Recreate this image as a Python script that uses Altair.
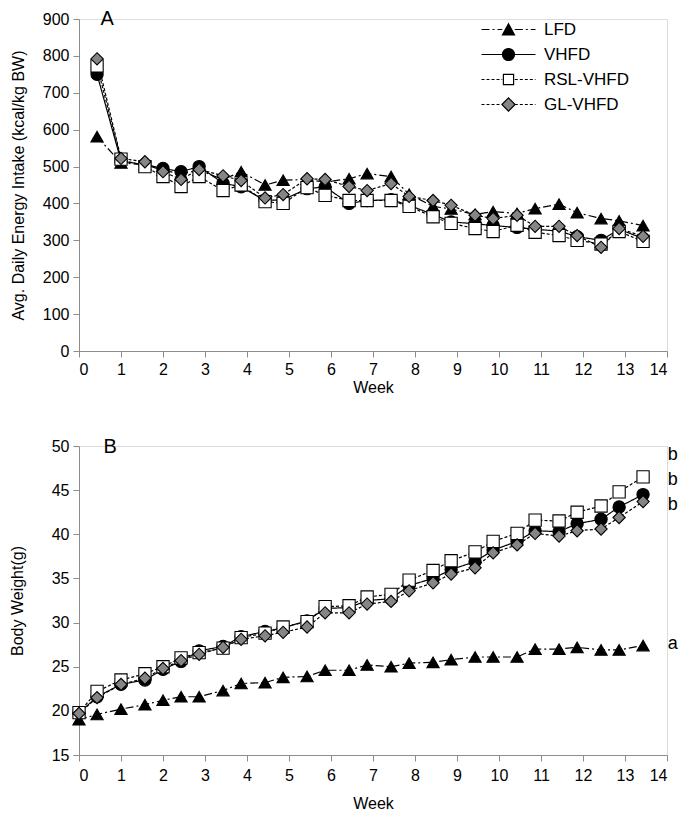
import altair as alt
import pandas as pd

# ---------------- data ----------------
groups = ["LFD", "VHFD", "RSL-VHFD", "GL-VHFD"]

weeks_a = [0.43, 1, 1.57, 2, 2.43, 2.86, 3.43, 3.86, 4.43, 4.86, 5.43, 5.86, 6.43, 6.86,
           7.43, 7.86, 8.43, 8.86, 9.43, 9.86, 10.43, 10.86, 11.43, 11.86, 12.43, 12.86, 13.43]
lfd_a = [581, 510, 505, 490, 480, 490, 465, 486, 450, 463, 465, 458, 467, 481,
         473, 425, 392, 385, 370, 378, 373, 386, 398, 375, 359, 353, 340]
vhfd_a = [750, 515, 505, 495, 486, 500, 455, 445, 408, 410, 440, 445, 400, 408,
          410, 395, 370, 350, 345, 340, 335, 330, 325, 310, 300, 330, 305]
rsl_a = [773, 520, 500, 473, 446, 473, 435, 450, 405, 400, 443, 422, 408, 408,
         408, 392, 364, 346, 332, 324, 341, 322, 313, 300, 290, 324, 297]
gl_a = [792, 522, 513, 486, 465, 492, 475, 462, 415, 424, 467, 465, 446, 435,
        454, 419, 408, 395, 368, 359, 368, 338, 338, 313, 281, 332, 311]

weeks_b = [0, 0.43, 1, 1.57, 2, 2.43, 2.86, 3.43, 3.86, 4.43, 4.86, 5.43, 5.86, 6.43, 6.86,
           7.43, 7.86, 8.43, 8.86, 9.43, 9.86, 10.43, 10.86, 11.43, 11.86, 12.43, 12.86, 13.43]
lfd_b = [19.0, 19.6, 20.2, 20.7, 21.2, 21.6, 21.6, 22.3, 23.1, 23.2, 23.8, 23.9, 24.6, 24.6, 25.2,
         25.0, 25.4, 25.5, 25.8, 26.1, 26.1, 26.1, 27.0, 27.0, 27.2, 26.9, 26.9, 27.4]
vhfd_b = [19.75, 21.6, 23.0, 23.5, 24.7, 25.6, 26.8, 27.3, 28.4, 29.0, 29.4, 30.2, 31.6, 31.7, 32.5,
          32.7, 34.2, 35.0, 36.0, 36.9, 38.2, 39.2, 40.4, 40.3, 41.2, 41.7, 43.1, 44.5]
rsl_b = [19.8, 22.2, 23.5, 24.2, 25.0, 26.0, 26.6, 27.1, 28.3, 28.8, 29.5, 30.1, 31.8, 31.9, 32.9,
         33.2, 34.8, 35.9, 37.0, 38.0, 39.2, 40.1, 41.6, 41.5, 42.5, 43.2, 44.8, 46.5]
gl_b = [19.7, 21.5, 23.0, 23.7, 24.8, 25.7, 26.4, 27.2, 28.1, 28.5, 28.9, 29.5, 31.1, 31.1, 32.1,
        32.4, 33.6, 34.5, 35.5, 36.2, 37.9, 38.8, 40.1, 39.8, 40.4, 40.6, 41.9, 43.7]

letters_b = ["b", "b", "b", "a"]
letters_b_y = [49.0, 46.1, 43.3, 27.6]
letters_b_x = [14.02, 14.02, 14.02, 14.02]

panel_labels = ["A", "B"]
ticks_a = [0, 100, 200, 300, 400, 500, 600, 700, 800, 900]
ticks_b = [15, 20, 25, 30, 35, 40, 45, 50]
ticks_x = list(range(15))

# ---------------- styling ----------------
FONT = "Liberation Sans"
fills = ["black", "black", "white", "#858585"]
dashes = [[8, 3, 2, 3], [1, 0], [3, 2], [3, 2]]
shapes = ["triangle-up", "circle", "square", "diamond"]
W = 588


def seg_path(pattern, start, end, unit):
    """Dashed line drawn as path segments (legend sample), in symbol units."""
    out = []
    x = start
    i = 0
    pat = [p / unit for p in pattern]
    while x < end - 1e-6:
        L = pat[i % len(pat)]
        if i % 2 == 0:
            out.append("M%.3f,0H%.3f" % (x, min(x + L, end)))
        x += L
        i += 1
    return "".join(out)


UNIT = 6.0  # px per symbol unit (symbol size 144 -> 12px box)
markers = [
    "M-1,0.9L0,-0.95L1,0.9Z",
    "M-1,0A1,1 0 1,0 1,0A1,1 0 1,0 -1,0Z",
    "M-0.85,-0.85H0.85V0.85H-0.85Z",
    "M0,-1.1L1.1,0L0,1.1L-1.1,0Z",
]
leg_paths = []
for pat, mk in zip(dashes, markers):
    if pat == [1, 0]:
        line = "M-4.5,0H-1M1,0H4.5"
    else:
        line = seg_path(pat, -4.5, -1.05, UNIT) + seg_path(pat, 1.05, 4.5, UNIT)
    leg_paths.append(line + mk)


def make_long(weeks, series):
    rows = []
    for g, vals in zip(groups, series):
        for w, v in zip(weeks, vals):
            rows.append({"week": w, "value": v, "group": g})
    return pd.DataFrame(rows)


dfA = make_long(weeks_a, [lfd_a, vhfd_a, rsl_a, gl_a])
dfB = make_long(weeks_b, [lfd_b, vhfd_b, rsl_b, gl_b])

x_axis_common = dict(values=ticks_x, format="d", grid=False, tickSize=6,
                     domainColor="#8c8c8c", tickColor="#8c8c8c", labelColor="black",
                     labelFont=FONT, labelFontSize=16, titleFont=FONT, titleFontSize=16,
                     titleFontWeight="normal", titleColor="black", labelOverlap=False)
y_axis_common = dict(grid=False, tickSize=6, domainColor="#8c8c8c", tickColor="#8c8c8c",
                     labelColor="black", labelFont=FONT, labelFontSize=16, labelPadding=4,
                     titleFont=FONT, titleFontSize=16, titleFontWeight="normal",
                     titleColor="black", labelOverlap=False, format="d", minExtent=0)


def encs(ydomain, yticks, ytitle, ytitle_pad, xlabel_pad, xtitle_pad):
    x = alt.X("week:Q", scale=alt.Scale(domain=[0, 14], nice=False),
              axis=alt.Axis(title="Week", labelPadding=xlabel_pad, titlePadding=xtitle_pad,
                            **x_axis_common))
    y = alt.Y("value:Q", scale=alt.Scale(domain=ydomain, nice=False),
              axis=alt.Axis(title=ytitle, values=yticks, tickCount=len(yticks),
                            titlePadding=ytitle_pad, **y_axis_common))
    return x, y


def panel(df, x, y, legend):
    base = alt.Chart(df)
    lines = base.mark_line(color="black", strokeWidth=1.2).encode(
        x=x, y=y,
        strokeDash=alt.StrokeDash("group:N", scale=alt.Scale(domain=groups, range=dashes),
                                  legend=None),
        detail="group:N",
    )
    pts = base.mark_point(filled=True, stroke="black", strokeWidth=1.1, size=150,
                          opacity=1).encode(
        x=x, y=y,
        shape=alt.Shape("group:N", scale=alt.Scale(domain=groups, range=shapes), legend=None),
        fill=alt.Fill("group:N", scale=alt.Scale(domain=groups, range=fills), legend=None),
    )
    layers = [lines, pts]
    if legend:
        leg = dict(title=None, orient="none", legendX=421, legendY=2,
                   labelFont=FONT, labelFontSize=17, labelColor="black",
                   symbolSize=144, symbolStrokeWidth=1.2, symbolStrokeColor="black",
                   labelOffset=27, rowPadding=7, padding=0)
        legl = base.transform_filter("false").mark_point(
            filled=True, strokeWidth=1.2, opacity=1).encode(
            x=x, y=y,
            shape=alt.Shape("group:N", scale=alt.Scale(domain=groups, range=leg_paths),
                            legend=alt.Legend(**leg)),
            fill=alt.Fill("group:N", scale=alt.Scale(domain=groups, range=fills),
                          legend=alt.Legend(**leg)),
            stroke=alt.Stroke("group:N", scale=alt.Scale(domain=groups, range=["black"] * 4),
                              legend=alt.Legend(**leg)),
        )
        layers.append(legl)
    return layers


# panel A
xA, yA = encs([0, 900], ticks_a, "Avg.  Daily Energy Intake (kcal/kg BW)", 16, 4, 2)
layersA = panel(dfA, xA, yA, True)
labA = alt.Chart(pd.DataFrame({"week": [0.67], "value": [900], "t": [panel_labels[0]]})).mark_text(
    font=FONT, fontSize=20, color="black", align="center", baseline="middle").encode(
    x=xA, y=yA, text="t:N")
chartA = alt.layer(*layersA, labA).resolve_scale(
    shape="independent", fill="independent", stroke="independent") \
    .properties(width=W, height=332)

# panel B
xB, yB = encs([15, 50], ticks_b, "Body Weight(g)", 26, 6, 12)
layersB = panel(dfB, xB, yB, False)
labB = alt.Chart(pd.DataFrame({"week": [0.74], "value": [49.9], "t": [panel_labels[1]]})).mark_text(
    font=FONT, fontSize=20, color="black", align="center", baseline="middle").encode(
    x=xB, y=yB, text="t:N")
lettersB = alt.Chart(pd.DataFrame({"week": letters_b_x, "value": letters_b_y, "t": letters_b})).mark_text(
    font=FONT, fontSize=18, color="black", align="left", baseline="middle").encode(
    x=xB, y=yB, text="t:N")
chartB = alt.layer(*layersB, labB, lettersB).properties(width=W, height=309)

chart = alt.vconcat(chartA, chartB, spacing=40).properties(
    padding={"left": 0, "top": 0, "right": 0, "bottom": 0}
).configure_view(stroke=None).configure_axis(labelOverlap=False).configure(font=FONT)

chart.save("out.html", embed_options={"renderer": "svg", "actions": False})
